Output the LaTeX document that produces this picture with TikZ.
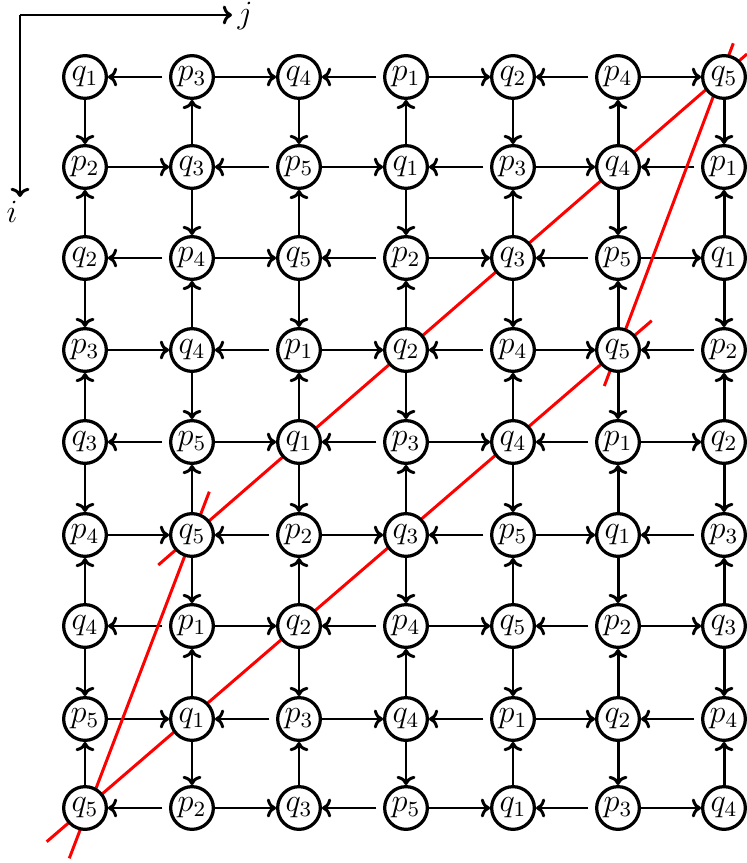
\documentclass[tikz,border=0pt]{standalone}
\usetikzlibrary{arrows.meta}
\pgfdeclarelayer{fg}
\pgfsetlayers{main,fg}
\begin{document}
\begin{tikzpicture}[x=0.37pt,y=-0.37pt,
  vx/.style={circle,draw,line width=1.2pt,fill=white,minimum size=15.8pt,inner sep=0pt,font=\large},
  arr/.style={line width=1.1pt,-{To[length=3.4pt,width=7pt]}},
  larr/.style={arr,shorten <=2.5pt},
  redline/.style={red,line width=1.1pt},
  lbl/.style={inner sep=0pt,font=\large}]
\useasboundingbox (0,0) rectangle (747,863);
\begin{pgfonlayer}{fg}
\foreach \r/\y/\lst in {
  1/77/{q/1,p/3,q/4,p/1,q/2,p/4,q/5},
  2/167/{p/2,q/3,p/5,q/1,p/3,q/4,p/1},
  3/258/{q/2,p/4,q/5,p/2,q/3,p/5,q/1},
  4/350/{p/3,q/4,p/1,q/2,p/4,q/5,p/2},
  5/442/{q/3,p/5,q/1,p/3,q/4,p/1,q/2},
  6/535/{p/4,q/5,p/2,q/3,p/5,q/1,p/3},
  7/626/{q/4,p/1,q/2,p/4,q/5,p/2,q/3},
  8/719/{p/5,q/1,p/3,q/4,p/1,q/2,p/4},
  9/808/{q/5,p/2,q/3,p/5,q/1,p/3,q/4}}{
  \foreach \t/\k [count=\c] in \lst {
    \pgfmathsetmacro\xx{{85,192,299,406,513,618,724}[\c-1]}
    \node[vx] (n\r-\c) at (\xx,\y) {$\t_{\k}$};
  }
}
\end{pgfonlayer}
% horizontal arrows: from p to q
\foreach \r in {1,...,9}{
  \foreach \c in {1,...,6}{
    \pgfmathtruncatemacro\cn{\c+1}
    \pgfmathtruncatemacro\pty{mod(\r+\c,2)}
    \ifnum\pty=0
      \draw[larr] (n\r-\cn) -- (n\r-\c);
    \else
      \draw[arr] (n\r-\c) -- (n\r-\cn);
    \fi
  }
}
% vertical arrows: from q to p
\foreach \r in {1,...,8}{
  \foreach \c in {1,...,7}{
    \pgfmathtruncatemacro\rn{\r+1}
    \pgfmathtruncatemacro\pty{mod(\r+\c,2)}
    \ifnum\pty=0
      \draw[arr] (n\r-\c) -- (n\rn-\c);
    \else
      \draw[arr] (n\rn-\c) -- (n\r-\c);
    \fi
  }
}
% red lines
\coordinate (a1) at (46.7,841.7);
\coordinate (a2) at (651.7,320.7);
\coordinate (b1) at (158.3,565);
\coordinate (b2) at (747,54);
\coordinate (c1) at (69.3,858.3);
\coordinate (c2) at (209.3,491.7);
\coordinate (d1) at (604.3,386);
\coordinate (d2) at (733.3,43.3);
\draw[redline] (a1) -- (a2);
\draw[redline] (b1) -- (b2);
\draw[redline] (c1) -- (c2);
\draw[redline] (d1) -- (d2);
% axes
\coordinate (o) at (20,15);
\coordinate (jend) at (232,15);
\coordinate (iend) at (20,197);
\draw[arr] (o) -- (jend);
\draw[arr] (o) -- (iend);
\node[lbl] (jl) at (245,16) {$j$};
\node[lbl] (il) at (12,212) {$i$};
\end{tikzpicture}
\end{document}
